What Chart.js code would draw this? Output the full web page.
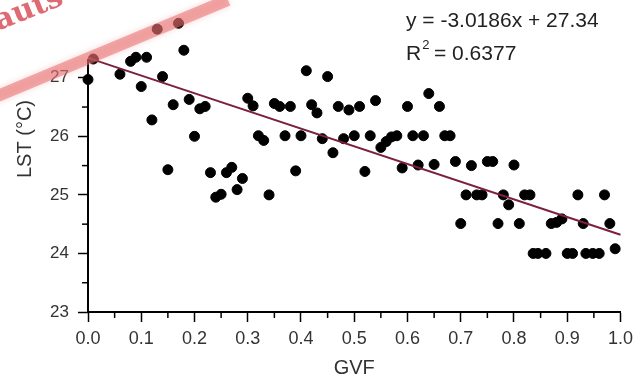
<!DOCTYPE html>
<html>
<head>
<meta charset="utf-8">
<script src="https://cdn.jsdelivr.net/npm/chart.js@4/dist/chart.umd.min.js"></script>
<style>
  html, body { margin: 0; padding: 0; background: #fff; }
  #wrap { width: 639px; height: 384px; }
</style>
</head>
<body>
<div id="wrap"><canvas id="scatterChart" width="639" height="384"></canvas></div>
<script>
// GVF vs LST data
var gvf = [0.00, 0.01, 0.06, 0.08, 0.09, 0.10, 0.11, 0.12, 0.13, 0.14,
           0.15, 0.16, 0.17, 0.18, 0.19, 0.20, 0.21, 0.22, 0.23, 0.24,
           0.25, 0.26, 0.27, 0.28, 0.29, 0.30, 0.31, 0.32, 0.33, 0.34,
           0.35, 0.36, 0.37, 0.38, 0.39, 0.40, 0.41, 0.42, 0.43, 0.44,
           0.45, 0.46, 0.47, 0.48, 0.49, 0.50, 0.51, 0.52, 0.53, 0.54,
           0.55, 0.56, 0.57, 0.58, 0.59, 0.60, 0.61, 0.62, 0.63, 0.64,
           0.65, 0.66, 0.67, 0.68, 0.69, 0.70, 0.71, 0.72, 0.73, 0.74,
           0.75, 0.76, 0.77, 0.78, 0.79, 0.80, 0.81, 0.82, 0.83, 0.836,
           0.845, 0.86, 0.87, 0.88, 0.89, 0.90, 0.91, 0.92, 0.93, 0.935,
           0.948, 0.96, 0.97, 0.98, 0.99];
var lst = [26.97, 27.32, 27.06, 27.28, 27.35, 26.85, 27.35, 26.28, 27.83, 27.02,
           25.43, 26.54, 27.93, 27.47, 26.63, 26.00, 26.47, 26.51, 25.38, 24.96,
           25.01, 25.38, 25.47, 25.09, 25.28, 26.65, 26.52, 26.01, 25.93, 25.00,
           26.56, 26.51, 26.01, 26.51, 25.41, 26.01, 27.12, 26.54, 26.40, 25.96,
           27.02, 25.72, 26.51, 25.96, 26.45, 26.01, 26.51, 25.40, 26.01, 26.61,
           25.81, 25.91, 25.99, 26.01, 25.46, 26.51, 26.01, 25.51, 26.01, 26.73,
           25.52, 26.51, 26.01, 26.01, 25.57, 24.51, 25.00, 25.50, 25.00, 25.00,
           25.57, 25.57, 24.51, 25.00, 24.83, 25.51, 24.51, 25.00, 25.00, 24.00,
           24.00, 24.00, 24.51, 24.53, 24.59, 24.00, 24.00, 25.00, 24.51, 24.00,
           24.00, 24.00, 25.00, 24.51, 24.08];

// fitted line end points (y = -3.0186x + 27.34)
var trendX = [0.0, 1.0];
var trendY = [27.34, 24.32];

var xTicks = [0, 0.1, 0.2, 0.3, 0.4, 0.5, 0.6, 0.7, 0.8, 0.9, 1.0];
var yTicks = [23, 24, 25, 26, 27];
var xMinor = [0.05, 0.15, 0.25, 0.35, 0.45, 0.55, 0.65, 0.75, 0.85, 0.95];
var yMinor = [23.5, 24.5, 25.5, 26.5];
var yAxisTop = 27.32; // the drawn left axis stops here

var eqText = 'y = -3.0186x + 27.34';
var r2Text = '0.6377';

var points = gvf.map((v, i) => ({x: v, y: lst[i]}));
var trend = trendX.map((v, i) => ({x: v, y: trendY[i]}));

// axis lines, minor ticks, y title, equation, watermark
var extras = {
  id: 'extras',
  beforeDatasetsDraw(chart) {
    var ctx = chart.ctx;
    var ys = chart.scales.y;
    var area = chart.chartArea;
    ctx.save();
    ctx.strokeStyle = '#000';
    ctx.lineWidth = 2;
    ctx.beginPath();
    ctx.moveTo(area.left, area.bottom + 1);
    ctx.lineTo(area.left, ys.getPixelForValue(yAxisTop));
    ctx.stroke();
    ctx.restore();
  },
  afterDraw(chart) {
    var ctx = chart.ctx;
    var xs = chart.scales.x, ys = chart.scales.y;
    var area = chart.chartArea;
    ctx.save();
    ctx.strokeStyle = '#000';
    ctx.lineWidth = 1.5;
    xMinor.forEach(v => {
      var px = xs.getPixelForValue(v);
      ctx.beginPath(); ctx.moveTo(px, area.bottom); ctx.lineTo(px, area.bottom + 6); ctx.stroke();
    });
    yMinor.forEach(v => {
      var py = ys.getPixelForValue(v);
      ctx.beginPath(); ctx.moveTo(area.left, py); ctx.lineTo(area.left - 6, py); ctx.stroke();
    });

    // y axis title
    ctx.fillStyle = '#333';
    ctx.font = '20px "Liberation Sans", Arial, sans-serif';
    ctx.translate(25, 139);
    ctx.rotate(-Math.PI / 2);
    ctx.textAlign = 'center';
    ctx.textBaseline = 'middle';
    ctx.fillText('LST (°C)', 0, 0);
    ctx.restore();

    // equation
    ctx.save();
    ctx.fillStyle = '#222';
    ctx.textBaseline = 'alphabetic';
    ctx.textAlign = 'left';
    ctx.font = '21px "Liberation Sans", Arial, sans-serif';
    ctx.fillText(eqText, 406, 27);
    ctx.fillText('R', 406, 60);
    var rw = ctx.measureText('R').width;
    ctx.font = '13px "Liberation Sans", Arial, sans-serif';
    ctx.fillText('2', 406 + rw + 1, 49);
    ctx.font = '21px "Liberation Sans", Arial, sans-serif';
    ctx.fillText(' = ' + r2Text, 406 + rw + 7, 60);
    ctx.restore();

    // watermark band and text
    ctx.save();
    ctx.strokeStyle = 'rgba(232, 110, 110, 0.55)';
    ctx.lineWidth = 12;
    ctx.shadowColor = 'rgba(232, 110, 110, 0.5)';
    ctx.shadowBlur = 6;
    ctx.beginPath(); ctx.moveTo(-5, 97); ctx.lineTo(228, 0); ctx.stroke();
    ctx.shadowBlur = 0;
    ctx.translate(0, 30);
    ctx.rotate(-0.38);
    ctx.fillStyle = 'rgba(214, 70, 80, 0.8)';
    ctx.font = 'bold 30px "DejaVu Serif", "Liberation Serif", serif';
    ctx.fillText('auts', -2, 0);
    ctx.restore();
  }
};

var ctxS = document.getElementById('scatterChart').getContext('2d');
var scatterChart = new Chart(ctxS, {
  type: 'scatter',
  data: {
    datasets: [{
      type: 'line',
      data: trend,
      borderColor: '#7a2140',
      borderWidth: 2,
      pointRadius: 0,
      fill: false,
      clip: false,
      order: 0
    }, {
      data: points,
      backgroundColor: '#000',
      borderColor: '#000',
      pointRadius: 5,
      clip: false,
      order: 1
    }]
  },
  options: {
    responsive: false,
    animation: false,
    layout: { padding: { top: 19, right: 16, left: 0, bottom: 0 } },
    plugins: { legend: { display: false }, tooltip: { enabled: false } },
    scales: {
      x: {
        type: 'linear',
        min: 0, max: 1,
        afterBuildTicks: s => { s.ticks = xTicks.map(v => ({value: v})); },
        afterFit: s => { s.height = 72; },
        grid: { drawOnChartArea: false, drawTicks: true, tickLength: 10, tickColor: '#000', tickWidth: 1.5 },
        border: { color: '#000', width: 2 },
        ticks: {
          color: '#333',
          font: { family: '"Liberation Sans", Arial, sans-serif', size: 18 },
          padding: 6,
          maxRotation: 0,
          callback: v => v.toFixed(1)
        },
        title: {
          display: true,
          text: 'GVF',
          color: '#333',
          font: { family: '"Liberation Sans", Arial, sans-serif', size: 20 },
          padding: { top: 0, bottom: 4 }
        }
      },
      y: {
        type: 'linear',
        min: 23, max: 28,
        afterBuildTicks: s => { s.ticks = yTicks.map(v => ({value: v})); },
        afterFit: s => { s.width = 88; },
        grid: { drawOnChartArea: false, drawTicks: true, tickLength: 10, tickColor: '#000', tickWidth: 1.5 },
        border: { display: false },
        ticks: {
          color: '#333',
          font: { family: '"Liberation Sans", Arial, sans-serif', size: 17 },
          padding: 9
        }
      }
    }
  },
  plugins: [extras]
});
</script>
</body>
</html>
